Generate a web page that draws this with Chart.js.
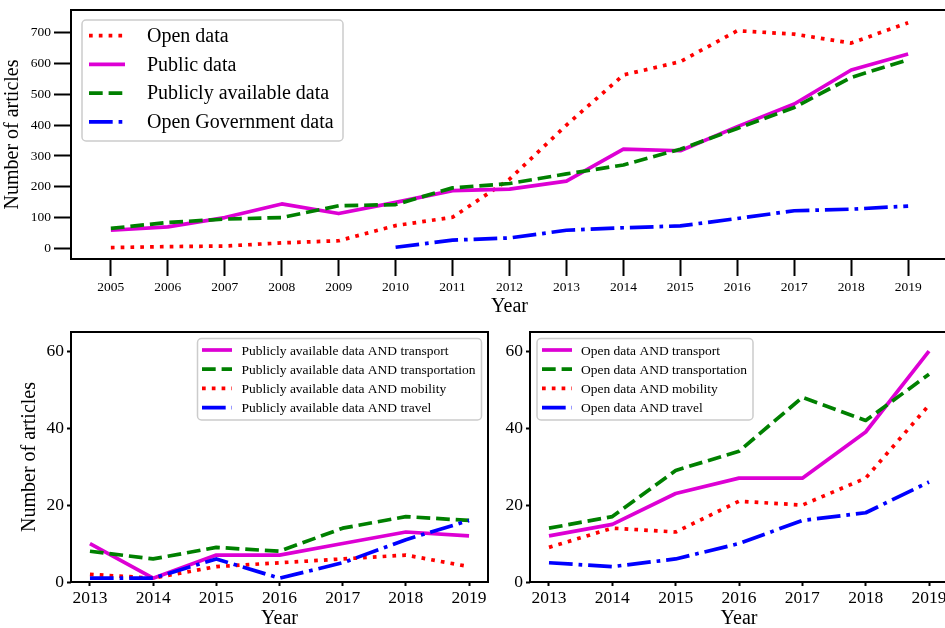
<!DOCTYPE html>
<html lang="en">
<head>
<meta charset="UTF-8">
<title>Number of articles per year</title>
<script src="https://cdn.jsdelivr.net/npm/chart.js@4.4.0/dist/chart.umd.min.js"></script>
<style>
  body { margin: 0; background: #fff; overflow: hidden; width: 945px; height: 628px; position: relative; }
  canvas { position: absolute; }
  #topChart { left: 0; top: 0; }
  #leftChart { left: 0; top: 320px; }
  #rightChart { left: 490px; top: 320px; }
</style>
</head>
<body>
<canvas id="topChart" width="960" height="320"></canvas>
<canvas id="leftChart" width="490" height="308"></canvas>
<canvas id="rightChart" width="470" height="308"></canvas>
<script>
// ---- data ----
const topYears = [2005, 2006, 2007, 2008, 2009, 2010, 2011, 2012, 2013, 2014, 2015, 2016, 2017, 2018, 2019];
const openData = [4, 7, 9, 19, 26, 75, 102, 225, 400, 562, 605, 705, 694, 665, 731];
const publicData = [60, 71, 101, 145, 114, 150, 188, 193, 219, 322, 317, 395, 468, 578, 630];
const publiclyAvailable = [66, 85, 96, 101, 139, 143, 197, 211, 242, 271, 322, 389, 457, 554, 611];
const openGovData = [null, null, null, null, null, 5, 28, 35, 60, 68, 74, 98, 123, 128, 138];
const topYTicks = [0, 100, 200, 300, 400, 500, 600, 700];

const bottomYears = [2013, 2014, 2015, 2016, 2017, 2018, 2019];
const paTransport = [10, 1, 7, 7, 10, 13, 12];
const paTransportation = [8, 6, 9, 8, 14, 17, 16];
const paMobility = [2, 1, 4, 5, 6, 7, 4];
const paTravel = [1, 1, 6, 1, 5, 11, 16];
const odTransport = [12, 15, 23, 27, 27, 39, 60];
const odTransportation = [14, 17, 29, 34, 48, 42, 54];
const odMobility = [9, 14, 13, 21, 20, 27, 46];
const odTravel = [5, 4, 6, 10, 16, 18, 26];
const bottomYTicks = [0, 20, 40, 60];

// ---- styles ----
const LW = 3.7;
const FONT = "'Liberation Serif', 'Times New Roman', serif";
const styles = {
  dotted:  { color: '#ff0000', dash: [LW, LW * 1.65] },
  solid:   { color: '#dd00d4', dash: [] },
  dashed:  { color: '#008000', dash: [LW * 3.7, LW * 1.6] },
  dashdot: { color: '#0000ff', dash: [LW * 6.4, LW * 1.6, LW, LW * 1.6] }
};

function makeDataset(label, years, values, style, n, i) {
  const pts = [];
  years.forEach((y, k) => { if (values[k] !== null) pts.push({ x: y, y: values[k] }); });
  return {
    label: label,
    data: pts,
    borderColor: style.color,
    borderWidth: LW,
    borderDash: style.dash,
    borderCapStyle: 'butt',
    borderJoinStyle: 'round',
    pointRadius: 0,
    tension: 0,
    fill: false,
    order: n - i
  };
}

// frame around the plot area (all four spines)
const framePlugin = {
  id: 'frame',
  afterDatasetsDraw(chart) {
    const a = chart.chartArea, ctx = chart.ctx;
    ctx.save();
    ctx.strokeStyle = '#000';
    ctx.lineWidth = 2;
    ctx.strokeRect(a.left, a.top, a.right - a.left, a.bottom - a.top);
    ctx.restore();
  }
};

// legend drawn inside the axes, matplotlib style
const boxLegendPlugin = {
  id: 'boxLegend',
  afterDraw(chart, args, opts) {
    const ctx = chart.ctx;
    const ds = opts.entries;
    ctx.save();
    ctx.beginPath();
    ctx.roundRect(opts.box.x, opts.box.y, opts.box.w, opts.box.h, 4);
    ctx.fillStyle = 'rgba(255,255,255,0.8)';
    ctx.fill();
    ctx.strokeStyle = '#cccccc';
    ctx.lineWidth = 1.5;
    ctx.stroke();
    ds.forEach((e, i) => {
      const y = opts.rowY + i * opts.rowGap;
      ctx.beginPath();
      ctx.setLineDash(e.style.dash);
      ctx.lineCap = 'butt';
      ctx.strokeStyle = e.style.color;
      ctx.lineWidth = LW;
      ctx.moveTo(opts.sampleX1, y);
      ctx.lineTo(opts.sampleX2, y);
      ctx.stroke();
      ctx.setLineDash([]);
      ctx.fillStyle = '#000';
      ctx.font = opts.fontSize + 'px ' + FONT;
      ctx.textBaseline = 'middle';
      ctx.textAlign = 'left';
      ctx.fillText(e.label, opts.textX, y + 1);
    });
    ctx.restore();
  }
};

function fixedAxis(size, horizontal) {
  return function (scale) {
    if (horizontal) scale.height = size; else scale.width = size;
    scale.paddingLeft = 0; scale.paddingRight = 0;
    scale.paddingTop = 0; scale.paddingBottom = 0;
  };
}

function buildChart(id, cfg) {
  const entries = cfg.series.map(s => ({ label: s.label, style: s.style }));
  const n = cfg.series.length;
  return new Chart(document.getElementById(id), {
    type: 'line',
    data: {
      datasets: cfg.series.map((s, i) => makeDataset(s.label, cfg.years, s.values, s.style, n, i))
    },
    options: {
      responsive: false,
      animation: false,
      devicePixelRatio: 1,
      layout: { padding: cfg.padding },
      plugins: {
        legend: { display: false },
        tooltip: { enabled: false },
        boxLegend: Object.assign({ entries: entries }, cfg.legend)
      },
      scales: {
        x: {
          type: 'linear',
          min: cfg.xMin,
          max: cfg.xMax,
          afterFit: fixedAxis(cfg.xAxisHeight, true),
          afterBuildTicks: s => { s.ticks = cfg.years.map(v => ({ value: v })); },
          border: { display: false },
          grid: { drawOnChartArea: false, drawTicks: true, tickLength: cfg.tickLength, tickColor: '#000', tickWidth: 2 },
          ticks: {
            color: '#000',
            font: { family: FONT, size: cfg.tickFont },
            padding: cfg.xTickPad,
            maxRotation: 0,
            autoSkip: false,
            callback: v => String(v)
          },
          title: {
            display: true,
            text: 'Year',
            color: '#000',
            font: { family: FONT, size: 20 },
            padding: { top: 0, bottom: cfg.xTitlePad }
          }
        },
        y: {
          type: 'linear',
          min: cfg.yMin,
          max: cfg.yMax,
          afterFit: fixedAxis(cfg.yAxisWidth, false),
          afterBuildTicks: s => { s.ticks = cfg.yTicks.map(v => ({ value: v })); },
          border: { display: false },
          grid: { drawOnChartArea: false, drawTicks: true, tickLength: cfg.tickLength, tickColor: '#000', tickWidth: 2 },
          ticks: {
            color: '#000',
            font: { family: FONT, size: cfg.tickFont },
            padding: cfg.yTickPad,
            autoSkip: false,
            callback: v => String(v)
          },
          title: {
            display: cfg.yTitle,
            text: 'Number of articles',
            color: '#000',
            font: { family: FONT, size: 20 },
            padding: { top: cfg.yTitlePad, bottom: 0 }
          }
        }
      }
    },
    plugins: [framePlugin, boxLegendPlugin]
  });
}

buildChart('topChart', {
  years: topYears,
  series: [
    { label: 'Open data', values: openData, style: styles.dotted },
    { label: 'Public data', values: publicData, style: styles.solid },
    { label: 'Publicly available data', values: publiclyAvailable, style: styles.dashed },
    { label: 'Open Government data', values: openGovData, style: styles.dashdot }
  ],
  padding: { top: 10, right: 12, left: 0, bottom: 0 },
  xMin: 2004.3, xMax: 2019.7,
  yMin: -33, yMax: 772,
  yTicks: topYTicks,
  xAxisHeight: 61, yAxisWidth: 71,
  tickLength: 17, tickFont: 13.5,
  xTickPad: 3, yTickPad: 3,
  xTitlePad: 1, yTitlePad: 1, yTitle: true,
  legend: {
    box: { x: 82, y: 20, w: 261, h: 121 },
    sampleX1: 89, sampleX2: 125, textX: 147,
    rowY: 35.7, rowGap: 28.7, fontSize: 20
  }
});

buildChart('leftChart', {
  years: bottomYears,
  series: [
    { label: 'Publicly available data AND transport', values: paTransport, style: styles.solid },
    { label: 'Publicly available data AND transportation', values: paTransportation, style: styles.dashed },
    { label: 'Publicly available data AND mobility', values: paMobility, style: styles.dotted },
    { label: 'Publicly available data AND travel', values: paTravel, style: styles.dashdot }
  ],
  padding: { top: 12, right: 2, left: 0, bottom: 0 },
  xMin: 2012.7, xMax: 2019.3,
  yMin: 0, yMax: 65,
  yTicks: bottomYTicks,
  xAxisHeight: 46, yAxisWidth: 71,
  tickLength: 4, tickFont: 17.5,
  xTickPad: 1.5, yTickPad: 3,
  xTitlePad: -3, yTitlePad: 18, yTitle: true,
  legend: {
    box: { x: 197.5, y: 18.5, w: 284, h: 81.5 },
    sampleX1: 202, sampleX2: 232, textX: 241.5,
    rowY: 30, rowGap: 19.2, fontSize: 13.5
  }
});

buildChart('rightChart', {
  years: bottomYears,
  series: [
    { label: 'Open data AND transport', values: odTransport, style: styles.solid },
    { label: 'Open data AND transportation', values: odTransportation, style: styles.dashed },
    { label: 'Open data AND mobility', values: odMobility, style: styles.dotted },
    { label: 'Open data AND travel', values: odTravel, style: styles.dashdot }
  ],
  padding: { top: 12, right: 12, left: 0, bottom: 0 },
  xMin: 2012.7, xMax: 2019.3,
  yMin: 0, yMax: 65,
  yTicks: bottomYTicks,
  xAxisHeight: 46, yAxisWidth: 40,
  tickLength: 4, tickFont: 17.5,
  xTickPad: 1.5, yTickPad: 3,
  xTitlePad: -3, yTitlePad: 0, yTitle: false,
  legend: {
    box: { x: 47, y: 18.5, w: 216, h: 81.5 },
    sampleX1: 52, sampleX2: 82, textX: 91,
    rowY: 30, rowGap: 19.2, fontSize: 13.5
  }
});
</script>
</body>
</html>
